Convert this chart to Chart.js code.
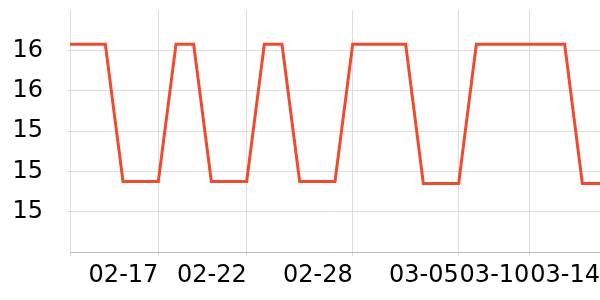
<!DOCTYPE html>
<html>
<head>
<meta charset="utf-8">
<script src="https://cdn.jsdelivr.net/npm/chart.js@4"></script>
<style>
  html, body { margin: 0; padding: 0; background: #fff; }
  #c { display: block; }
</style>
</head>
<body>
<canvas id="c" width="600" height="300"></canvas>
<script>
const dates = [
  '02-12','02-13','02-14','02-15','02-16','02-17','02-18','02-19','02-20','02-21',
  '02-22','02-23','02-24','02-25','02-26','02-27','02-28','02-29','03-01','03-02',
  '03-03','03-04','03-05','03-06','03-07','03-08','03-10','03-11','03-12','03-13',
  '03-14'
];
const values = [
  15.83, 15.83, 15.83, 15.15, 15.15, 15.15, 15.83, 15.83, 15.15, 15.15,
  15.15, 15.83, 15.83, 15.15, 15.15, 15.15, 15.83, 15.83, 15.83, 15.83,
  15.14, 15.14, 15.14, 15.83, 15.83, 15.83, 15.83, 15.83, 15.83, 15.14,
  15.14
];
const shownDates = ['02-17', '02-22', '02-28', '03-05', '03-10', '03-14'];
const yMin = 14.8, yMax = 16.0, yStep = 0.2;

const FONT = "'DejaVu Sans', sans-serif";

new Chart(document.getElementById('c'), {
  type: 'line',
  data: {
    labels: dates,
    datasets: [{
      data: values,
      borderColor: '#ee4b2f',
      borderWidth: 3,
      pointRadius: 0,
      tension: 0,
      fill: false
    }]
  },
  options: {
    responsive: false,
    animation: false,
    layout: { padding: { top: 10, right: 0, left: 0, bottom: 0 } },
    plugins: { legend: { display: false }, tooltip: { enabled: false } },
    scales: {
      x: {
        type: 'category',
        offset: false,
        afterBuildTicks: (scale) => {
          scale.ticks = scale.ticks.filter(t => t.value === 0 || shownDates.includes(dates[t.value]));
        },
        afterFit: (scale) => {
          scale.height = 48;
          scale.paddingLeft = 0; scale.paddingRight = 0;
          scale.paddingTop = 0; scale.paddingBottom = 0;
        },
        grid: { color: '#dddddd', lineWidth: 1, tickLength: 4, drawTicks: true },
        border: { color: '#bbbbbb', width: 1 },
        ticks: {
          autoSkip: false,
          maxRotation: 0,
          minRotation: 0,
          align: 'end',
          padding: 5,
          color: '#000',
          font: { family: FONT, size: 24 },
          callback: function (v) { return v === 0 ? '' : dates[v]; }
        }
      },
      y: {
        min: yMin,
        max: yMax,
        afterBuildTicks: (scale) => {
          scale.ticks = scale.ticks.filter(t => t.value > yMin + 0.05 && t.value < yMax - 0.05);
        },
        afterFit: (scale) => {
          scale.width = 70;
          scale.paddingTop = 0; scale.paddingBottom = 0;
          scale.paddingLeft = 0; scale.paddingRight = 0;
        },
        grid: { color: '#dddddd', lineWidth: 1, tickLength: 3, drawTicks: true },
        border: { color: '#dddddd', width: 1 },
        ticks: {
          stepSize: yStep,
          padding: 24,
          color: '#000',
          font: { family: FONT, size: 24 },
          callback: (v) => String(Math.round(v))
        }
      }
    }
  }
});
</script>
</body>
</html>
